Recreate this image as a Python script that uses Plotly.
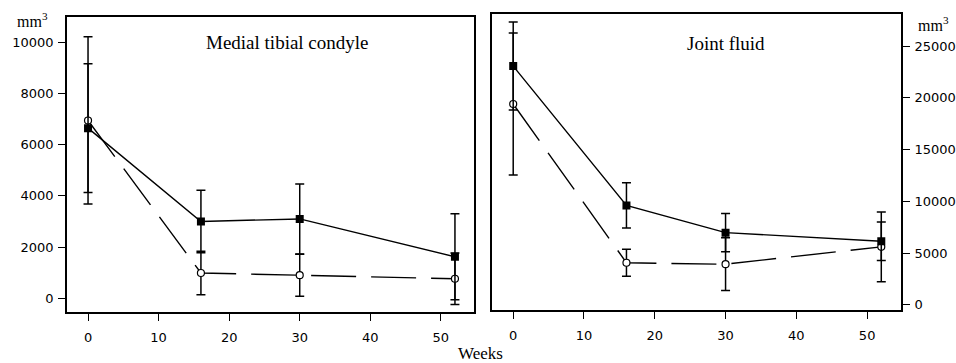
import plotly.graph_objects as go

weeks = [0, 16, 30, 52]

# Medial tibial condyle (mm3)
mtc_filled = [6650, 3000, 3100, 1620]
mtc_filled_err = [2520, 1220, 1370, 1680]
mtc_open = [6950, 985, 900, 760]
mtc_open_err = [3270, 850, 820, 1010]

# Joint fluid (mm3)
jf_filled = [23060, 9600, 6970, 6140]
jf_filled_err = [4250, 2180, 1850, 1850]
jf_open = [19400, 4060, 3920, 5600]
jf_open_err = [6850, 1310, 2550, 3365]

x_ticks = [0, 10, 20, 30, 40, 50]
y1_ticks = [0, 2000, 4000, 6000, 8000, 10000]
y2_ticks = [0, 5000, 10000, 15000, 20000, 25000]

W, H = 956, 363
TICKFONT = dict(family="DejaVu Sans", size=13, color="black")
SERIF = "Liberation Serif"


def err(arr):
    return dict(type="data", array=arr, visible=True, color="black", thickness=1.5, width=4.5)


fig = go.Figure()

for xa, ya, filled, ferr, opn, oerr in [
    ("x", "y", mtc_filled, mtc_filled_err, mtc_open, mtc_open_err),
    ("x2", "y2", jf_filled, jf_filled_err, jf_open, jf_open_err),
]:
    fig.add_trace(go.Scatter(
        x=weeks, y=opn, xaxis=xa, yaxis=ya, mode="lines+markers",
        line=dict(color="black", width=1.4, dash="45px,15px"),
        marker=dict(symbol="circle", size=7, color="white", line=dict(color="black", width=1.2)),
        error_y=err(oerr), showlegend=False,
    ))
    fig.add_trace(go.Scatter(
        x=weeks, y=filled, xaxis=xa, yaxis=ya, mode="lines+markers",
        line=dict(color="black", width=1.4),
        marker=dict(symbol="square", size=8, color="black"),
        error_y=err(ferr), showlegend=False,
    ))

axis_common = dict(showgrid=False, zeroline=False, showline=True, linecolor="black",
                   linewidth=1.5, mirror=True, ticks="outside", ticklen=7,
                   tickcolor="black", tickwidth=1.2, tickfont=TICKFONT)

fig.update_layout(
    width=W, height=H, margin=dict(l=0, r=0, t=0, b=0),
    paper_bgcolor="white", plot_bgcolor="white",
    xaxis=dict(domain=[67 / W, 475 / W], range=[-3, 54.7], tickvals=x_ticks,
               ticktext=[str(v) for v in x_ticks],
               anchor="y", ticklabelstandoff=5, **axis_common),
    yaxis=dict(domain=[1 - 314 / H, 1 - 17 / H], range=[-550, 11000], tickvals=y1_ticks,
               ticktext=[str(v) for v in y1_ticks],
               anchor="x", side="left", ticklabelstandoff=2, **axis_common),
    xaxis2=dict(domain=[493 / W, 903 / W], range=[-3, 54.8], tickvals=x_ticks,
                ticktext=[str(v) for v in x_ticks],
                anchor="y2", ticklabelstandoff=5, **axis_common),
    yaxis2=dict(domain=[1 - 312 / H, 1 - 14 / H], range=[-530, 28100], tickvals=y2_ticks,
                ticktext=[str(v) for v in y2_ticks],
                anchor="x2", side="right", ticklabelstandoff=2, **axis_common),
    annotations=[
        dict(text="Medial tibial condyle", x=288 / W, y=1 - 43 / H, xref="paper", yref="paper",
             xanchor="center", yanchor="middle",
             showarrow=False, font=dict(family=SERIF, size=19, color="black")),
        dict(text="Joint fluid", x=728 / W, y=1 - 44 / H, xref="paper", yref="paper",
             xanchor="center", yanchor="middle",
             showarrow=False, font=dict(family=SERIF, size=19, color="black")),
        dict(text="Weeks", x=482 / W, y=1 - 355 / H, xref="paper", yref="paper",
             xanchor="center", yanchor="middle",
             showarrow=False, font=dict(family=SERIF, size=17, color="black")),
        dict(text="mm<sup>3</sup>", x=33 / W, y=1 - 20 / H, xref="paper", yref="paper",
             xanchor="center", yanchor="middle",
             showarrow=False, font=dict(family=SERIF, size=16, color="black")),
        dict(text="mm<sup>3</sup>", x=935 / W, y=1 - 24 / H, xref="paper", yref="paper",
             xanchor="center", yanchor="middle",
             showarrow=False, font=dict(family=SERIF, size=16, color="black")),
    ],
)

fig.write_html("out.html")
